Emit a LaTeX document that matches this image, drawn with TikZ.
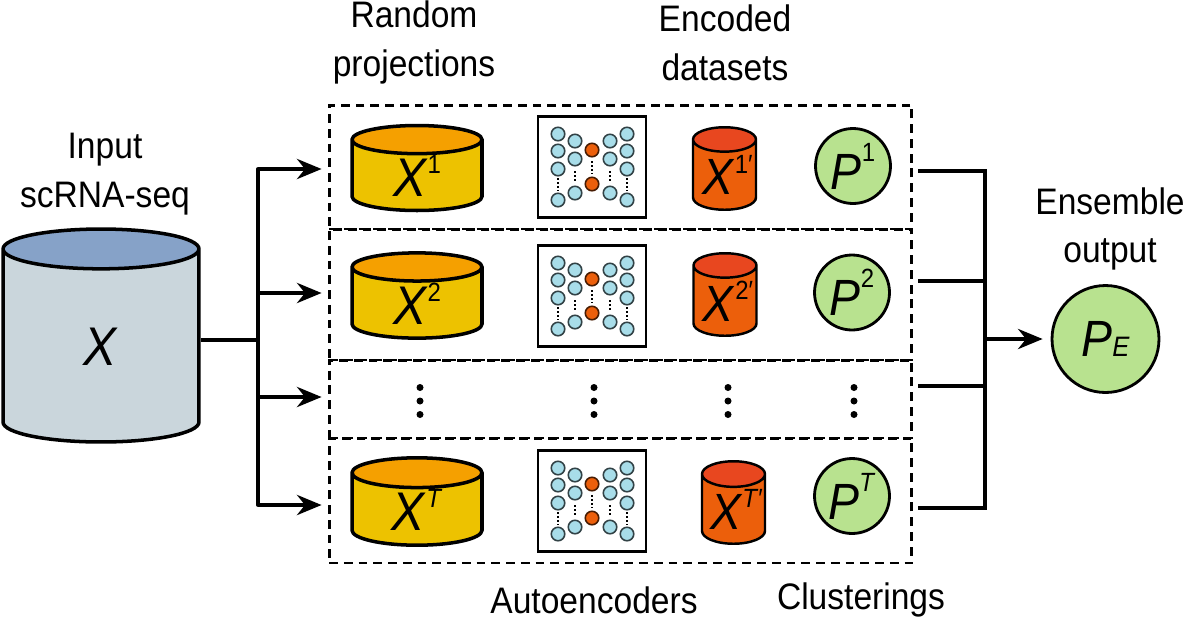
\documentclass[tikz,border=0pt]{standalone}
\usepackage{fontspec}
\setmainfont[FakeStretch=0.91]{Liberation Sans}
\usepackage{xcolor}
\usetikzlibrary{shapes.geometric,arrows.meta,calc}
\definecolor{cBigBody}{HTML}{CAD6DC}
\definecolor{cBigTop}{HTML}{86A2C8}
\definecolor{cYellowBody}{HTML}{EDC200}
\definecolor{cYellowTop}{HTML}{F5A000}
\definecolor{cOrangeBody}{HTML}{EC5F0B}
\definecolor{cOrangeTop}{HTML}{E8471F}
\definecolor{cGreen}{HTML}{B8E28F}
\definecolor{cBlue}{HTML}{A8DDE9}
\newcommand{\varsup}[3][0.42em]{\textit{#2}\raisebox{#1}{\fontsize{15}{15}\selectfont #3}}
\tikzstyle{tsLabel} = [
    text=black,
    align=center,
    font=\fontsize{21}{27.8}\selectfont
]
\tikzstyle{tsCylinder} = [
    cylinder,
    anchor=shape center,
    shape border rotate=90,
    draw=black,
    line width=2pt,
    cylinder uses custom fill,
    inner sep=0pt,
    font=\fontsize{31}{31}\selectfont
]
\tikzstyle{tsBigCylinder} = [
    tsCylinder,
    cylinder body fill=cBigBody,
    cylinder end fill=cBigTop,
    shape aspect=1.15,
    minimum width=3.92cm,
    minimum height=4.26cm
]
\tikzstyle{tsYellowCylinder} = [
    tsCylinder,
    cylinder body fill=cYellowBody,
    cylinder end fill=cYellowTop,
    shape aspect=0.587,
    minimum width=2.6cm,
    minimum height=1.65cm
]
\tikzstyle{tsOrangeCylinder} = [
    tsCylinder,
    line width=1.4pt,
    cylinder body fill=cOrangeBody,
    cylinder end fill=cOrangeTop,
    shape aspect=0.434,
    minimum width=1.26cm,
    minimum height=1.65cm,
    font=\fontsize{29}{29}\selectfont
]
\tikzstyle{tsCircle} = [
    circle,
    draw=black,
    line width=1.6pt,
    fill=cGreen,
    inner sep=0pt,
    font=\fontsize{29}{29}\selectfont
]
\tikzstyle{tsRow} = [
    rectangle,
    draw=black,
    line width=1.7pt,
    dash pattern=on 5pt off 3.4pt,
    minimum width=11.66cm
]
\tikzstyle{tsLine} = [
    line width=2.2pt
]
\tikzstyle{tsArrow} = [
    line width=1.9pt,
    -{Stealth[length=14pt,width=11.5pt]}
]
\tikzset{
    aenet/.pic={
        \node[draw=black, line width=1.6pt, fill=white, minimum width=2.16cm, minimum height=2.02cm, inner sep=0pt] (-frame) at (0,0) {};
        \foreach \px/\py in {-34/-33,-34/-16,-34/2,-34/33,-17/-26,-17/-8,-17/26,18/-26,18/-8,18/26,35/-33,35/-16,35/2,35/33}
            \fill[cBlue, draw=black!70!cBlue, line width=0.9pt] (\px,\py) circle (0.135cm);
        \foreach \py in {-17,17}
            \fill[cOrangeBody, draw=black!70!cOrangeBody, line width=0.9pt] (0,\py) circle (0.135cm);
        \foreach \px/\pya/\pyb in {-34/11/24,-17/4/16,0/-6/7,18/4/16,35/11/24}
            \draw[line width=1.3pt, dash pattern=on 1.2pt off 1.1pt] (\px,\pya) -- (\px,\pyb);
    },
    vdots/.pic={
        \fill[black] (0,-13.5) circle (0.07cm);
        \fill[black] (0,0) circle (0.07cm);
        \fill[black] (0,13.5) circle (0.07cm);
    }
}
\begin{document}
\begin{tikzpicture}[x=0.02cm, y=-0.02cm]
        \useasboundingbox (0,0) rectangle (1183,623);

        \node[tsRow, minimum height=2.48cm] (rowA) at (620.5,167) {};
        \node[tsRow, minimum height=2.62cm] (rowB) at (620.5,294.5) {};
        \node[tsRow, minimum height=1.56cm] (rowDots) at (620.5,399) {};
        \node[tsRow, minimum height=2.5cm] (rowT) at (620.5,500.5) {};

        \node[tsBigCylinder] (input) at (101,335.5) {\textit{X}};

        \node[tsYellowCylinder] (projA) at (417,168) {\varsup{X}{1}};
        \node[tsYellowCylinder] (projB) at (417,295.5) {\varsup{X}{2}};
        \node[tsYellowCylinder] (projT) at (417,501.5) {\varsup{X}{\textit{T}}};

        \pic (aeA) at (592,167) {aenet};
        \pic (aeB) at (592,296) {aenet};
        \pic (aeT) at (592,501) {aenet};

        \node[tsOrangeCylinder] (codeA) at (724.5,168.5) {\hspace*{0.12cm}\varsup{X}{1′}};
        \node[tsOrangeCylinder] (codeB) at (725,294.5) {\hspace*{0.12cm}\varsup{X}{2′}};
        \node[tsOrangeCylinder] (codeT) at (733.5,502.5) {\hspace*{0.12cm}\varsup{X}{\textit{T}′}};

        \node[tsCircle, minimum size=1.5cm] (clustA) at (853,166) {\varsup[0.55em]{P}{1}};
        \node[tsCircle, minimum size=1.5cm] (clustB) at (852,292.5) {\varsup[0.55em]{P}{2}};
        \node[tsCircle, minimum size=1.5cm] (clustT) at (852,496) {\varsup[0.55em]{P}{\textit{T}}};
        \node[tsCircle, minimum size=2.14cm] (output) at (1105.5,339) {\textit{P}{\fontsize{16}{16}\selectfont\textit{E}}};

        \pic (dotsA) at (420,401) {vdots};
        \pic (dotsB) at (594,401) {vdots};
        \pic (dotsC) at (728,401) {vdots};
        \pic (dotsD) at (854,401) {vdots};

        % left fan
        \coordinate (split) at (258,340);
        \coordinate (splitA) at (258,169);
        \coordinate (splitB) at (258,293);
        \coordinate (splitDots) at (258,397);
        \coordinate (splitT) at (258,505);
        \draw[line width=1.9pt] (input.east |- split) -- (split);
        \draw[tsLine, line cap=round] (splitA) -- (splitT);
        \draw[tsArrow] (splitA) -- ($(rowA.west |- splitA) - (6,0)$);
        \draw[tsArrow] (splitB) -- ($(rowB.west |- splitB) - (6,0)$);
        \draw[tsArrow] (splitDots) -- ($(rowDots.west |- splitDots) - (6,0)$);
        \draw[tsArrow] (splitT) -- ($(rowT.west |- splitT) - (6,0)$);

        % right merge
        \coordinate (mergeA) at (985,171);
        \coordinate (mergeB) at (985,281);
        \coordinate (mergeDots) at (985,386);
        \coordinate (mergeT) at (985,508);
        \coordinate (merge) at (985,339);
        \draw[tsLine] ($(rowA.east |- mergeA) + (5,0)$) -- (mergeA) -- (mergeT) -- ($(rowT.east |- mergeT) + (5,0)$);
        \draw[tsLine] ($(rowB.east |- mergeB) + (5,0)$) -- (mergeB);
        \draw[tsLine] ($(rowDots.east |- mergeDots) + (5,0)$) -- (mergeDots);
        \draw[tsArrow] (merge) -- ($(output.west) - (8,0)$);

        \node[tsLabel] (lblInput) at (105,174) {Input\\scRNA-seq};
        \node[tsLabel] (lblRandom) at (414,42.5) {Random\\projections};
        \node[tsLabel] (lblEncoded) at (725,42.5) {Encoded\\datasets};
        \node[tsLabel] (lblEnsemble) at (1110,229) {Ensemble\\output};
        \node[tsLabel] (lblAuto) at (594,600) {Autoencoders};
        \node[tsLabel] (lblClust) at (861,600) {Clusterings};

    \end{tikzpicture}
\end{document}
